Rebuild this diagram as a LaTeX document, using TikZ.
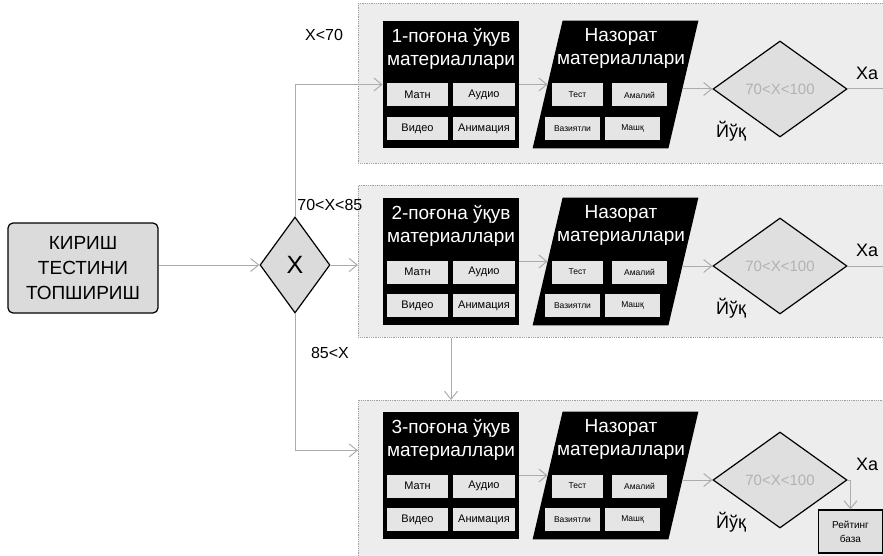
\documentclass[tikz,border=0pt]{standalone}
\usepackage{fontspec}
\setmainfont{Liberation Sans}
\usetikzlibrary{shapes.geometric,arrows.meta}

\begin{document}
\begin{tikzpicture}[x=1pt,y=-1pt,every path/.style={thick},
    panel/.style={draw=gray!75,densely dotted,line width=0.8pt,fill=gray!14,inner sep=0,anchor=north west},
    matbox/.style={fill=black,inner sep=0,minimum width=136,minimum height=127},
    nazbox/.style={inner sep=0,minimum width=135,minimum height=127},
    ttl/.style={text=white,align=center,font=\fontsize{19}{23}\selectfont},
    subbox/.style={fill=gray!20,inner sep=0,minimum height=23,font=\fontsize{11}{12}\selectfont},
    smallbox/.style={subbox,font=\fontsize{8.5}{9}\selectfont},
    chkbox/.style={diamond,draw=black,line width=1.2pt,fill=gray!25,inner sep=0,aspect=1.4,
      minimum width=134,minimum height=96,text=gray!60,font=\fontsize{15}{16}\selectfont},
    lbl/.style={font=\fontsize{16}{17}\selectfont,inner sep=1pt},
    big/.style={font=\fontsize{18}{19}\selectfont,inner sep=1pt},
    conn/.style={draw=gray!65,line width=1pt,-{Straight Barb[length=8pt,width=13pt]}},
    plain/.style={draw=gray!65,line width=1pt}]
  \useasboundingbox (0,0) rectangle (883,556);
  \node[draw=black,line width=1.2pt,rounded corners=5pt,fill=gray!28,minimum width=150,minimum height=90,
    align=center,font=\fontsize{19}{25}\selectfont] (kir) at (83,268) {КИРИШ\\ТЕСТИНИ\\ТОПШИРИШ};
  \node[diamond,draw=black,line width=1.2pt,fill=gray!28,inner sep=0,aspect=0.73,minimum width=70,minimum height=96,
    font=\fontsize{25}{26}\selectfont] (x) at (295,265) {X};
  \foreach \i/\t/\pt/\ph in {1/21/3/160,2/198/185/152,3/412/400/156} {
    \node[panel,minimum width=525,minimum height=\ph] (pan\i) at (358,\pt) {};
    \node[matbox] (mat\i) at (451,\t+63.5) {};
    \node[ttl] (mt\i) at (451,\t+27.5) {\i-поғона ўқув\\материаллари};
    \node[subbox,minimum width=61] (matn\i) at (417.5,\t+74) {Матн};
    \node[subbox,minimum width=62] (aud\i) at (484,\t+74) {Аудио};
    \node[subbox,minimum width=61] (vid\i) at (417.5,\t+107.5) {Видео};
    \node[subbox,minimum width=62] (anim\i) at (484,\t+107.5) {Анимация};
    \node[nazbox] (naz\i) at (615.5,\t+63.5) {};
    \fill[black] ([xshift=-15pt]naz\i.south west) -- ([xshift=-15pt]naz\i.south east)
      -- ([xshift=15pt]naz\i.north east) -- ([xshift=15pt]naz\i.north west) -- cycle;
    \node[ttl] (nt\i) at (621,\t+27.5) {Назорат\\материаллари};
    \node[smallbox,minimum width=51] (test\i) at (577.5,\t+74) {Тест};
    \node[smallbox,minimum width=55] (amal\i) at (639.5,\t+74) {Амалий};
    \node[smallbox,minimum width=55] (vaz\i) at (572.5,\t+107.5) {Вазиятли};
    \node[smallbox,minimum width=55] (mash\i) at (632.5,\t+107.5) {Машқ};
    \node[chkbox] (chk\i) at (780,\t+68) {70<X<100};
    \node[big] (ha\i) at (867,\t+52) {Ха};
    \node[big] (yuk\i) at (731,\t+110) {Йўқ};
    \coordinate (out\i) at (883,\t+68);
    \draw[conn] (mat\i) -- (naz\i);
    \draw[conn] (naz\i.east |- chk\i) -- (chk\i);
  }
  \node[draw=black,line width=1.2pt,fill=gray!25,minimum width=64,minimum height=43,align=center,
    font=\fontsize{10}{14}\selectfont] (rb) at (850.5,531.5) {Рейтинг\\база};
  \node[lbl] (lt70) at (324,35) {X<70};
  \node[lbl,anchor=west] (lmid) at (296,205) {70<X<85};
  \node[lbl] (lgt85) at (330,353) {85<X};
  \draw[conn] (kir.east |- x) -- (x);
  \draw[conn] (x.north) |- (mat1);
  \draw[conn] (x) -- (pan2.west |- x);
  \draw[conn] (x.south) |- ([yshift=28pt]pan3.west);
  \draw[conn] (pan2.south -| mat2) -- (pan3.north -| mat2);
  \draw[plain] (chk1) -- (out1);
  \draw[plain] (chk2) -- (out2);
  \draw[conn] (chk3.east) -| (rb);
\end{tikzpicture}
\end{document}
